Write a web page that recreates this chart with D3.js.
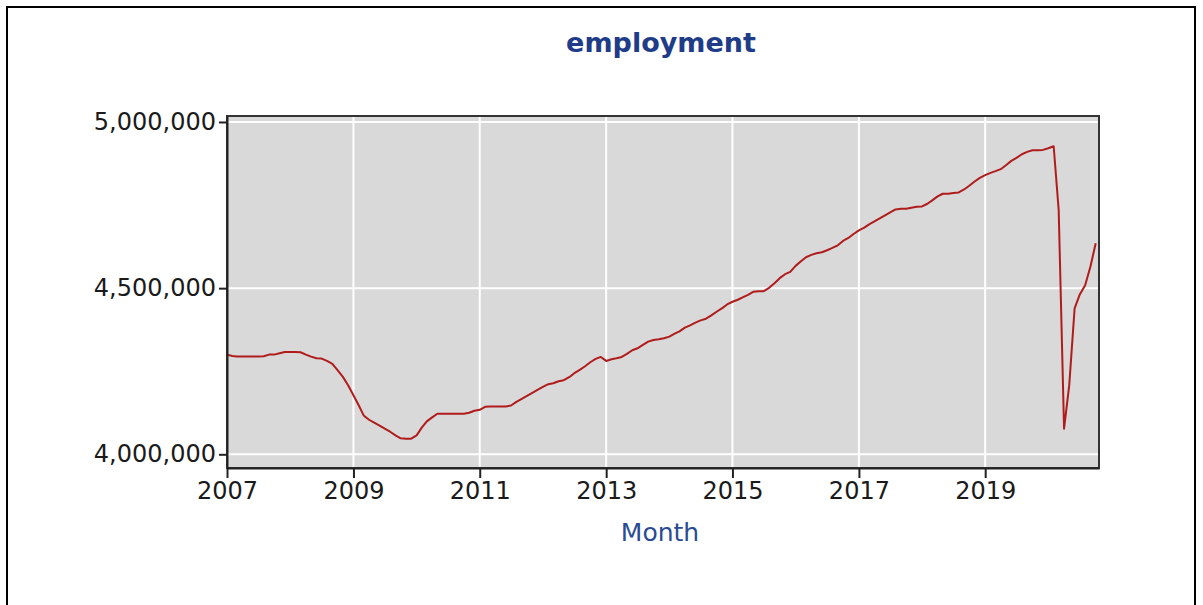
<!DOCTYPE html>
<html>
<head>
<meta charset="utf-8">
<script src="https://cdn.jsdelivr.net/npm/d3@7"></script>
<style>
  body { margin: 0; background: #fff; }
  svg { display: block; font-family: "DejaVu Sans", Verdana, sans-serif; }
</style>
</head>
<body>
<svg id="chart" width="1203" height="605"></svg>
<script>
// monthly series, Jan 2007 .. Oct 2020
const firstMonth = new Date(2007, 0, 1);
const employment = [
  4300000, 4296000, 4294000, 4294000, 4294000, 4294000, 4294000, 4295000, 4300000, 4300000, 4304000, 4308000,
  4308000, 4308000, 4307000, 4300000, 4294000, 4289000, 4288000, 4281000, 4272000, 4253000, 4233000, 4208000,
  4178000, 4147000, 4117000, 4104000, 4095000, 4086000, 4077000, 4068000, 4057000, 4048000, 4047000, 4047000,
  4057000, 4081000, 4099000, 4111000, 4122000, 4122000, 4122000, 4122000, 4122000, 4122000, 4125000, 4131000,
  4134000, 4143000, 4144000, 4144000, 4144000, 4144000, 4147000, 4158000, 4167000, 4176000, 4185000, 4194000,
  4203000, 4211000, 4214000, 4220000, 4223000, 4232000, 4244000, 4254000, 4265000, 4277000, 4287000, 4293000,
  4281000, 4286000, 4289000, 4293000, 4302000, 4313000, 4319000, 4329000, 4339000, 4344000, 4346000, 4349000,
  4354000, 4363000, 4370000, 4381000, 4388000, 4396000, 4403000, 4408000, 4418000, 4429000, 4439000, 4451000,
  4459000, 4465000, 4472000, 4480000, 4489000, 4491000, 4491000, 4501000, 4515000, 4530000, 4542000, 4549000,
  4567000, 4581000, 4593000, 4600000, 4605000, 4608000, 4614000, 4621000, 4629000, 4642000, 4651000, 4663000,
  4674000, 4682000, 4692000, 4701000, 4710000, 4719000, 4728000, 4737000, 4739000, 4739000, 4742000, 4745000,
  4746000, 4754000, 4764000, 4776000, 4784000, 4784000, 4786000, 4788000, 4797000, 4808000, 4821000, 4832000,
  4840000, 4847000, 4852000, 4858000, 4870000, 4883000, 4892000, 4903000, 4910000, 4915000, 4915000, 4916000,
  4921000, 4927000, 4734000, 4077000, 4208000, 4439000, 4481000, 4509000, 4566000, 4635000
];
const yearTicks = [2007, 2009, 2011, 2013, 2015, 2017, 2019];
const valueTicks = [4000000, 4500000, 5000000];
const chartTitle = "employment";
const xTitle = "Month";

const svg = d3.select("#chart");

// plot box
const plotL = 227, plotR = 1099, plotT = 116, plotB = 468;

const data = employment.map((v, i) => ({ date: d3.timeMonth.offset(firstMonth, i), value: v }));

const x = d3.scaleTime()
  .domain([firstMonth, new Date(2020, 9, 20)])
  .range([plotL, plotR]);

const y = d3.scaleLinear()
  .domain([3958800, 5018000])
  .range([plotB, plotT]);

// outer frame
svg.append("rect")
  .attr("x", 7).attr("y", 7)
  .attr("width", 1188).attr("height", 640)
  .attr("fill", "none")
  .attr("stroke", "#000")
  .attr("stroke-width", 2);

// background
svg.append("rect")
  .attr("x", plotL).attr("y", plotT)
  .attr("width", plotR - plotL).attr("height", plotB - plotT)
  .attr("fill", "#d9d9d9");

// grid
const yearDates = yearTicks.map(yr => new Date(yr, 0, 1));
svg.append("g").selectAll("line")
  .data(yearDates)
  .join("line")
  .attr("x1", d => x(d)).attr("x2", d => x(d))
  .attr("y1", plotT).attr("y2", plotB)
  .attr("stroke", "#fff")
  .attr("stroke-width", 2);

svg.append("g").selectAll("line")
  .data(valueTicks)
  .join("line")
  .attr("x1", plotL).attr("x2", plotR)
  .attr("y1", d => y(d)).attr("y2", d => y(d))
  .attr("stroke", "#fff")
  .attr("stroke-width", 2);

// the series
const line = d3.line()
  .x(d => x(d.date))
  .y(d => y(d.value));

svg.append("path")
  .datum(data)
  .attr("fill", "none")
  .attr("stroke", "#b01c1c")
  .attr("stroke-width", 2)
  .attr("stroke-linejoin", "round")
  .attr("d", line);

// border of plot
svg.append("rect")
  .attr("x", plotL).attr("y", plotT)
  .attr("width", plotR - plotL).attr("height", plotB - plotT)
  .attr("fill", "none")
  .attr("stroke", "#333")
  .attr("stroke-width", 2);

// axes
const xAxis = d3.axisBottom(x)
  .tickValues(yearDates)
  .tickFormat(d3.timeFormat("%Y"))
  .tickSize(10)
  .tickSizeOuter(0)
  .tickPadding(4);

const yAxis = d3.axisLeft(y)
  .tickValues(valueTicks)
  .tickFormat(d3.format(","))
  .tickSize(8)
  .tickSizeOuter(0)
  .tickPadding(3);

const gx = svg.append("g")
  .attr("transform", `translate(0,${plotB})`)
  .call(xAxis);

const gy = svg.append("g")
  .attr("transform", `translate(${plotL},0)`)
  .call(yAxis);

[gx, gy].forEach(g => {
  g.select(".domain").attr("stroke", "#222").attr("stroke-width", 2);
  g.selectAll(".tick line").attr("stroke", "#222").attr("stroke-width", 2);
  g.selectAll(".tick text")
    .attr("fill", "#1a1a1a")
    .style("font-family", '"DejaVu Sans", Verdana, sans-serif')
    .style("font-size", "24px");
});

// titles
svg.append("text")
  .attr("x", (plotL + plotR) / 2 - 2)
  .attr("y", 52)
  .attr("text-anchor", "middle")
  .attr("fill", "#1f3c88")
  .style("font-size", "27px")
  .style("font-weight", "bold")
  .text(chartTitle);

svg.append("text")
  .attr("x", (plotL + plotR) / 2 - 3)
  .attr("y", 541)
  .attr("text-anchor", "middle")
  .attr("fill", "#2a4a94")
  .style("font-size", "25px")
  .text(xTitle);
</script>
</body>
</html>
